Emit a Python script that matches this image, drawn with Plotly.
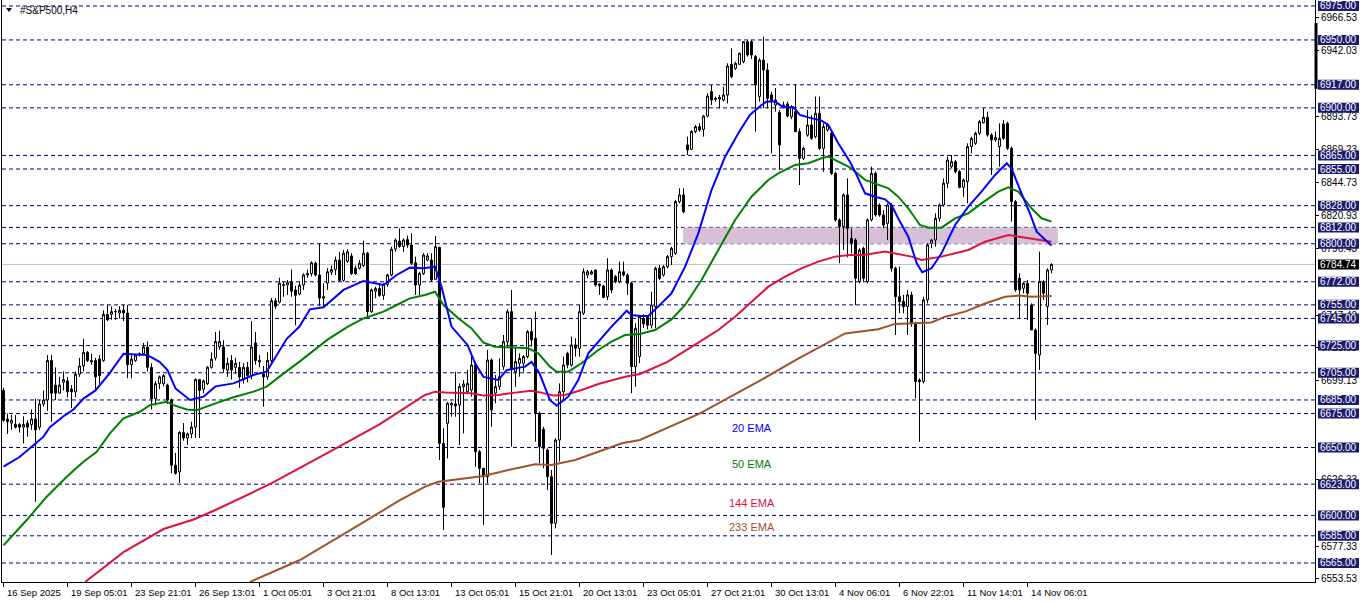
import plotly.graph_objects as go

# ---------------- data ----------------
opens = [
    6692, 6671, 6668, 6667, 6667, 6665, 6668, 6667, 6671, 6665,
    6682, 6685, 6714, 6696, 6690, 6698, 6699, 6693, 6691, 6704,
    6710, 6720, 6713, 6714, 6715, 6714, 6748, 6748, 6750, 6749,
    6751, 6749, 6711, 6714, 6718, 6719, 6724, 6709, 6686, 6697,
    6697, 6696, 6685, 6637, 6632, 6661, 6657, 6660, 6665, 6700,
    6693, 6697, 6709, 6716, 6724, 6724, 6707, 6714, 6709, 6709,
    6700, 6709, 6703, 6727, 6713, 6704, 6702, 6714, 6758, 6757,
    6770, 6769.6, 6772, 6766, 6763, 6769.6, 6777, 6778, 6785.6, 6777,
    6761, 6771, 6779, 6781, 6788, 6773, 6787, 6791, 6782, 6782,
    6784, 6793, 6750, 6765, 6767, 6762, 6770, 6777, 6796, 6802,
    6798, 6803, 6799, 6786, 6769.6, 6778, 6788, 6788, 6773.8, 6797.3,
    6653.1, 6667.8, 6681.3, 6682, 6681.3, 6694.8, 6691.1, 6692.3, 6710.7, 6646.9,
    6634.7, 6628.5, 6714.4, 6690, 6694.8, 6709.5, 6727.9, 6750.0, 6705.8, 6712.0,
    6712.0, 6716.9, 6735.3, 6730.4, 6675.2, 6663.4, 6648.2, 6628.5, 6594.2, 6655.5,
    6691.1, 6719.3, 6710.7, 6725.5, 6723.0, 6748.8, 6777.0, 6777.7, 6780.7, 6770.1,
    6768.9, 6761.0, 6780.7, 6775.8, 6772.1, 6779.4, 6777.0, 6770.9, 6709.5, 6717,
    6745, 6746, 6740, 6753.7, 6781.9, 6777.0, 6783.1, 6790.5, 6793, 6831.0,
    6835.9, 6872.7, 6869.5, 6882.5, 6886.2, 6884.2, 6894.0, 6911.9, 6906.3, 6906.5,
    6905.8, 6909.5, 6932.1, 6929.1, 6932.1, 6934.0, 6948.7, 6948.7, 6937.7, 6908.3,
    6935.2, 6927.9, 6909.5, 6902.1, 6896.5, 6900.9, 6902.9, 6893.5, 6897.2, 6882.5,
    6862.9, 6880.0, 6887.4, 6878.8, 6896.0, 6870.2, 6883.7, 6881.3, 6851.8, 6817.5,
    6812.6, 6835.9, 6804.0, 6802.7, 6772.1, 6796.6, 6772.1, 6817.5, 6851.8, 6828.5,
    6821.2, 6815.0, 6828.5, 6781.9, 6761.0, 6757.4, 6753.7, 6762.3, 6741.4, 6699.7,
    6698.5, 6758.6, 6800.3, 6802.7, 6818.7, 6828.5, 6844.5, 6856.7, 6860.4, 6853.1,
    6841.5, 6845.7, 6871.5, 6874.0, 6881.3, 6889.1, 6893.0, 6880.0, 6876.4, 6871.5,
    6888.1, 6888.6, 6870.2, 6831.0, 6774.5, 6767.2, 6770.8, 6754.9, 6736.5, 6718.1,
    6772.1, 6753.7, 6780.7,
]
highs = [
    6694, 6675, 6674, 6674, 6668, 6673, 6670, 6678, 6686, 6685,
    6692, 6718, 6718, 6709, 6702, 6706, 6702, 6696, 6706, 6716,
    6730, 6721, 6719, 6716, 6718, 6751, 6755, 6754, 6752, 6754,
    6755, 6755, 6718, 6719, 6720, 6727, 6728, 6712, 6699, 6703,
    6704, 6697, 6686, 6646, 6662, 6668, 6661, 6669, 6701, 6700,
    6700, 6710, 6720, 6735, 6736, 6729, 6716, 6718, 6716, 6713,
    6712, 6713, 6743, 6735, 6718, 6710, 6720, 6760, 6760, 6775,
    6772, 6773.3, 6781, 6769, 6772, 6778.2, 6781, 6787, 6787, 6800,
    6771, 6782, 6784, 6790.5, 6794, 6795.4, 6796, 6793, 6784, 6788,
    6802.3, 6794, 6767, 6768.4, 6771, 6771, 6778, 6797.8, 6804, 6811.3,
    6804, 6806, 6807.6, 6790.5, 6779.4, 6793, 6793, 6793, 6805.7, 6797.8,
    6664.1, 6683.7, 6683.7, 6705.8, 6697.2, 6699.7, 6707.1, 6718.1, 6713.2, 6648.2,
    6634.7, 6721.8, 6715.6, 6703.4, 6715.6, 6732.8, 6751.7, 6766.0, 6724.2, 6719.3,
    6718.1, 6736.5, 6745.1, 6750.0, 6676.4, 6665.3, 6649.4, 6633.4, 6656.8, 6697.2,
    6716.9, 6720.5, 6731.6, 6730.4, 6754.9, 6781.9, 6780.7, 6780.7, 6780.7, 6770.9,
    6769.6, 6789.3, 6781.9, 6777.0, 6786.8, 6786.8, 6778.2, 6772.1, 6741.4, 6747,
    6748, 6747, 6764.7, 6783.1, 6784.3, 6784.3, 6791.7, 6797.8, 6832.2, 6840.8,
    6840.8, 6878.8, 6883.7, 6887.4, 6888.6, 6894.8, 6910.7, 6916.8, 6908.3, 6909.5,
    6915.6, 6932.8, 6943.8, 6934.0, 6940.6, 6949.2, 6950.0, 6950.0, 6938.9, 6936.5,
    6952.4, 6932.8, 6912.0, 6914.6, 6898.4, 6904.6, 6904.6, 6902.1, 6916.8, 6884.9,
    6871.5, 6898.4, 6894.8, 6908.3, 6908.3, 6888.6, 6888.6, 6882.5, 6853.0, 6818.7,
    6837.1, 6848.1, 6811.3, 6804.0, 6796.6, 6797.8, 6818.7, 6856.7, 6853.1, 6829.7,
    6824.8, 6829.7, 6829.7, 6783.1, 6783.1, 6762.3, 6765.9, 6764.7, 6742.6, 6700.9,
    6761.0, 6800.3, 6803.5, 6822.4, 6829.7, 6848.1, 6864.1, 6865.3, 6861.6, 6854.3,
    6848.1, 6873.9, 6878.8, 6882.5, 6891.1, 6899.7, 6897.2, 6881.3, 6882.5, 6888.6,
    6891.1, 6889.9, 6871.5, 6832.2, 6778.2, 6772.1, 6773.3, 6756.1, 6737.7, 6794.2,
    6773.3, 6781.9, 6785.6,
]
lows = [
    6669, 6660, 6663, 6664, 6661, 6653, 6658, 6663, 6610, 6663,
    6680, 6677, 6669, 6685, 6690, 6692, 6687, 6679, 6687, 6702,
    6706, 6713, 6711, 6693, 6697, 6713, 6743, 6744, 6744, 6745,
    6743, 6701, 6701, 6713, 6717, 6719, 6706, 6678, 6681, 6693,
    6695, 6682, 6631, 6630, 6624, 6655, 6652, 6657, 6657, 6657,
    6690, 6696, 6708, 6714, 6722, 6705, 6702, 6700, 6704, 6694,
    6697, 6698, 6700, 6711, 6709, 6680, 6700, 6712, 6752, 6756,
    6761, 6762.3, 6761, 6740, 6762, 6766, 6775, 6776, 6776, 6754,
    6754, 6766, 6777, 6777, 6772, 6772, 6786, 6777, 6777, 6781,
    6783, 6746.3, 6749, 6759.8, 6761, 6758.6, 6768.4, 6776, 6794, 6797,
    6794, 6797, 6784.3, 6762.3, 6762.3, 6777, 6787, 6772, 6773.3, 6640.8,
    6589.3, 6642.0, 6672.7, 6672.7, 6651.8, 6660.4, 6689.9, 6687.4, 6635.9, 6623.6,
    6593.0, 6623.6, 6665.3, 6682.5, 6692.3, 6707.1, 6724.2, 6650.6, 6694.8, 6702.1,
    6705.8, 6715.6, 6724.2, 6654.3, 6638.4, 6634.7, 6618.7, 6570.9, 6590.5, 6639.6,
    6685.0, 6708.3, 6709.5, 6716.9, 6716.9, 6747.5, 6774.5, 6777.0, 6768.4, 6762.3,
    6759.8, 6758.6, 6763.5, 6770.9, 6770.9, 6775.8, 6762.3, 6689.9, 6694.8, 6712,
    6738, 6737, 6737.7, 6737.7, 6773.3, 6775.8, 6781.9, 6784.3, 6791.7, 6829.7,
    6822.4, 6865.3, 6869.0, 6881.3, 6882.5, 6878.8, 6893.0, 6902.1, 6904.6, 6899.7,
    6904.6, 6903.3, 6921.8, 6927.9, 6931.6, 6932.8, 6937.7, 6936.0, 6882.5, 6904.6,
    6899.7, 6899.7, 6866.5, 6897.2, 6854.3, 6899.7, 6893.0, 6891.7, 6882.5, 6843.2,
    6861.6, 6878.8, 6876.4, 6877.6, 6869.0, 6853.0, 6882.5, 6850.6, 6816.2, 6785.6,
    6795.4, 6790.0, 6792.9, 6754.9, 6770.8, 6772.1, 6770.8, 6816.3, 6819.9, 6819.9,
    6811.3, 6802.7, 6779.4, 6732.8, 6748.8, 6748.8, 6732.8, 6738.9, 6686.2, 6654.3,
    6697.2, 6756.0, 6796.6, 6797.8, 6816.3, 6827.3, 6840.8, 6855.5, 6851.8, 6840.8,
    6834.6, 6829.7, 6866.6, 6872.7, 6880.0, 6888.6, 6878.8, 6850.6, 6875.1, 6856.7,
    6876.4, 6869.0, 6816.3, 6764.7, 6745.1, 6763.5, 6743.9, 6736.5, 6670.3, 6707.1,
    6758.6, 6740.2, 6778.2,
]
closes = [
    6670, 6669, 6670, 6665, 6665, 6667, 6665, 6671, 6663, 6682,
    6685, 6714, 6690, 6690, 6696, 6700, 6691, 6691, 6704, 6710,
    6720, 6714, 6714, 6702, 6703, 6748, 6744, 6750, 6750, 6751,
    6749, 6711, 6715, 6718, 6719, 6724, 6709, 6686, 6697, 6702,
    6703, 6685, 6637, 6631, 6661, 6657, 6660, 6665, 6700, 6692,
    6699, 6709, 6715, 6728, 6728, 6708, 6712, 6707, 6712, 6702,
    6709, 6703, 6724, 6714, 6714, 6702, 6714, 6758, 6754, 6771,
    6769.5, 6771.6, 6765, 6762, 6769.5, 6777, 6778, 6786, 6777, 6760,
    6760, 6779.4, 6781, 6788, 6773, 6793, 6794, 6778, 6778, 6785.6,
    6793, 6750, 6766, 6767, 6762, 6770, 6777, 6796, 6802.7, 6798,
    6802.7, 6799, 6785.6, 6769.6, 6778.2, 6791.7, 6791, 6773.3, 6797.8, 6653.1,
    6606.0, 6682.5, 6682.5, 6680.6, 6694.8, 6696.7, 6697.2, 6710.7, 6646.9, 6634.7,
    6628.5, 6714.4, 6677.6, 6694.8, 6702.1, 6727.9, 6750.0, 6707.1, 6713.2, 6715.6,
    6716.9, 6735.3, 6729.1, 6675.2, 6650.6, 6649.4, 6628.5, 6594.2, 6655.5, 6691.1,
    6710.7, 6710.7, 6725.5, 6723.0, 6750.0, 6779.4, 6779.4, 6779.4, 6769.6, 6769.1,
    6760.5, 6780.7, 6766.0, 6772.1, 6779.4, 6777.0, 6770.9, 6709.5, 6737.7, 6746.3,
    6741, 6740, 6754.9, 6781.9, 6774.5, 6783.1, 6790.5, 6796.6, 6831.0, 6835.9,
    6823.6, 6869.0, 6882.5, 6886.2, 6883.7, 6894.0, 6908.7, 6905.8, 6907.0, 6907.8,
    6909.5, 6930.8, 6923.0, 6932.8, 6940.2, 6948.7, 6938.9, 6938.9, 6916.8, 6935.2,
    6927.9, 6907.0, 6904.6, 6905.8, 6872.7, 6902.1, 6894.0, 6900.9, 6882.5, 6862.9,
    6870.2, 6887.4, 6877.6, 6896.0, 6870.2, 6886.2, 6887.4, 6851.8, 6817.5, 6812.6,
    6835.9, 6811.3, 6800.3, 6774.5, 6795.4, 6774.5, 6817.5, 6851.8, 6821.2, 6821.2,
    6813.8, 6828.5, 6781.9, 6761.0, 6757.4, 6753.7, 6762.3, 6741.4, 6698.5, 6698.5,
    6758.6, 6799.1, 6802.7, 6818.7, 6828.5, 6844.5, 6861.6, 6860.4, 6853.1, 6841.5,
    6846.9, 6871.5, 6877.6, 6881.3, 6889.9, 6893.0, 6880.0, 6876.4, 6878.3, 6877.6,
    6877.6, 6870.2, 6831.0, 6766.0, 6766.0, 6770.8, 6763.5, 6736.5, 6719.3, 6772.1,
    6763.5, 6780.7, 6784.74,
]
bars = list(range(len(closes)))

# moving averages (bar position, value)
ema20_bar = [0, 4, 8, 10, 11.6, 15, 17.5, 20, 23, 26.6, 30, 36, 39, 41, 43, 46.6, 50, 53, 57.5, 62.5,
             65.8, 68.3, 70.8, 74, 76.6, 80, 85, 90, 95, 98.3, 101.6, 105, 107.9, 109.5, 112, 116,
             117.9, 120, 123.7, 125.8, 130.4, 132, 134, 136.6, 138.3, 141.2, 143.7, 146.2, 148.7,
             152, 155.8, 157, 159.1, 161.2, 164.5, 167, 170.4, 173.7, 177, 180.4, 183.7, 186.6,
             189.5, 190.8, 192.9, 195, 197.5, 199.1, 201.2, 204.5, 206.2, 208.7, 211.6, 212.9,
             215.4, 217.9, 220.4, 222, 224.1, 226.2, 228.3, 229.7, 232, 234.5, 237.9, 241.2, 244.5,
             247.9, 250.8, 252, 254.5, 256.6, 258.3, 260.4, 262]
ema20_val = [6636, 6643, 6653, 6658, 6665, 6673, 6678, 6686, 6692, 6705, 6719, 6718, 6713, 6707, 6693.5,
             6685, 6687.4, 6695, 6697.2, 6703.4, 6705.8, 6718.1, 6730, 6739, 6751.7, 6753.2, 6766,
             6772.6, 6769.6, 6777, 6782.4, 6781.9, 6783.1, 6768.4, 6739, 6725.5, 6712, 6702, 6699.7,
             6707, 6709.5, 6713, 6704.6, 6685, 6680.8, 6687.4, 6699.7, 6719.3, 6728, 6739, 6750.7,
             6747.5, 6746.8, 6746.8, 6756.1, 6763.5, 6783.1, 6807.6, 6839.5, 6864.1, 6881.3, 6894.8,
             6902.1, 6904.6, 6904.6, 6900.4, 6900.4, 6894.8, 6893, 6890.6, 6887.4, 6873.9, 6860.4,
             6853.1, 6837.1, 6834.6, 6832.7, 6828.5, 6816.3, 6805.2, 6785.6, 6779, 6781.9, 6792.9,
             6813.8, 6827.3, 6838.3, 6850.6, 6859.2, 6855.5, 6837.1, 6822.4, 6808.9, 6802.7, 6798.6]

ema50_bar = [0, 5.8, 10.8, 15.8, 20, 23.3, 26.6, 30, 34.1, 36.6, 40.8, 42.5, 45.8, 48.3, 53, 57.5, 62.5,
             65.8, 69, 74, 81.1, 86.1, 90, 95, 98.3, 101.6, 105.4, 107.9, 110, 113.7, 117, 120, 122.9,
             127, 131.2, 133.7, 136.6, 138.3, 141.2, 144.5, 148.7, 152, 155.4, 159.1, 162.9, 167,
             170.4, 174.5, 178.7, 182.9, 187, 191.2, 193.7, 197.9, 201.2, 204.5, 206.2, 208.7, 211.6,
             215.4, 218.7, 221.2, 223.7, 226.2, 229.1, 231.2, 234.5, 237.9, 241.2, 244.5, 248.7,
             251.2, 253.7, 257, 259.5, 262]
ema50_val = [6578, 6596.6, 6613.8, 6628.5, 6639.5, 6646.9, 6660.4, 6671.4, 6676.3, 6681.2, 6683.7,
             6681.2, 6678, 6677.5, 6682.5, 6687, 6691.1, 6694.8, 6702.2, 6713.2, 6729.6, 6739, 6745,
             6750, 6754.9, 6759.8, 6762.3, 6764.7, 6754.9, 6745.1, 6737.7, 6727.2, 6724.2, 6723.7,
             6723, 6719.3, 6709.5, 6705.8, 6705.8, 6712, 6721.8, 6727.9, 6732.8, 6733.5, 6736.5,
             6744.3, 6754.9, 6773.3, 6795.4, 6817.5, 6834.6, 6846.9, 6851.8, 6858, 6859.2, 6862.9,
             6864.1, 6860.4, 6856.2, 6847, 6843.2, 6840.8, 6834.6, 6826.1, 6813.8, 6811.8, 6811.8,
             6818.7, 6822.4, 6829.7, 6838.3, 6841.5, 6838.3, 6826.1, 6818.7, 6816.3]

ema144_bar = [20.4, 30, 40, 47.5, 53, 66.6, 81.6, 94, 105.4, 107.9, 110.4, 113.7, 117, 120, 123.7,
              127.9, 132, 134.5, 137.5, 140.4, 144.5, 148.7, 152.9, 155.4, 159.1, 166, 172, 178.7,
              182.9, 187, 191.2, 195.4, 199.5, 203.7, 207.9, 211.6, 215, 220.4, 227, 229.5, 234.5,
              241.2, 245.4, 251.2, 257, 262]
ema144_val = [6551, 6573, 6590, 6597, 6604, 6623, 6647, 6667, 6688.7, 6691.1, 6690.4, 6689.9, 6689.9,
              6688.2, 6688.7, 6690.4, 6691.8, 6690.4, 6688.2, 6688.7, 6692.3, 6696.7, 6700.2, 6702.1,
              6704.1, 6713, 6724, 6736.5, 6746.3, 6757.3, 6768.4, 6775.8, 6781.9, 6786.8, 6790.5,
              6791.7, 6791.7, 6794.2, 6790.5, 6788, 6790.5, 6795.4, 6801.5, 6806.4, 6804, 6801.5]

ema233_bar = [61.6, 74, 86.6, 99, 105.4, 108.7, 113.7, 120, 126.2, 132.9, 137, 142.9, 148.7, 154.6,
              159.1, 174, 189, 199, 210.4, 218.7, 222.9, 227.9, 232, 235.4, 240.4, 245.4, 250.4,
              253.7, 257, 262]
ema233_val = [6551, 6567, 6589, 6611, 6621.2, 6624.8, 6626.6, 6629, 6633.4, 6637.6, 6637.1, 6640.8,
              6646.9, 6653.1, 6655.5, 6675, 6699, 6716, 6734, 6737, 6741, 6741.4, 6742, 6746.3, 6750,
              6756, 6761, 6761.8, 6761, 6761.5]

level_prices = [6975, 6950, 6917, 6900, 6865, 6855, 6828, 6812, 6800, 6772, 6755, 6745, 6725,
                6705, 6685, 6675, 6650, 6623, 6600, 6585, 6565]
scale_prices = [6966.53, 6942.03, 6893.73, 6869.23, 6844.73, 6820.93, 6796.43,
                6747.43, 6723.63, 6699.13, 6626.33, 6577.33, 6553.53]
last_price = 6784.74
zone_low, zone_high = 6800, 6812
zone_start_bar, zone_end_bar = 169.9, 263.6

time_labels = ["16 Sep 2025", "19 Sep 05:01", "23 Sep 21:01", "26 Sep 13:01", "1 Oct 05:01",
               "3 Oct 21:01", "8 Oct 13:01", "13 Oct 05:01", "15 Oct 21:01", "20 Oct 13:01",
               "23 Oct 05:01", "27 Oct 21:01", "30 Oct 13:01", "4 Nov 06:01", "6 Nov 22:01",
               "11 Nov 14:01", "14 Nov 06:01"]
time_label_bars = [16 * k for k in range(len(time_labels))]

ema_names = ["20 EMA", "50 EMA", "144 EMA", "233 EMA"]
ema_colors = ["#0000FF", "#008000", "#DC143C", "#A0522D"]
ema_label_prices = [6664.4, 6637.9, 6609.2, 6591.5]
ema_label_bar = 187

# ---------------- layout geometry ----------------
W, H = 1362, 603
ML, MR, MT, MB = 2, 47, 0, 21
PW = W - ML - MR
PH = H - MT - MB
X_RANGE = [-0.375, -0.375 + PW / 4.0]
Y_RANGE = [6551.0, 6979.4]
FONT = "Liberation Sans"
NAVY = "#000080"


def px_x(px):
    return (px - ML) / PW


def px_y(py):
    return 1 - (py - MT) / PH


fig = go.Figure()

fig.add_trace(go.Candlestick(
    x=bars, open=opens, high=highs, low=lows, close=closes,
    increasing=dict(line=dict(color="black", width=1), fillcolor="white"),
    decreasing=dict(line=dict(color="black", width=1), fillcolor="black"),
    whiskerwidth=0, showlegend=False, hoverinfo="skip",
))

for bx, vy, col in [(ema233_bar, ema233_val, ema_colors[3]), (ema144_bar, ema144_val, ema_colors[2]),
                    (ema50_bar, ema50_val, ema_colors[1]), (ema20_bar, ema20_val, ema_colors[0])]:
    fig.add_trace(go.Scatter(x=bx, y=vy, mode="lines", line=dict(color=col, width=2),
                             showlegend=False, hoverinfo="skip"))

shapes = []
# highlighted zone
shapes.append(dict(type="rect", xref="x", yref="y", x0=zone_start_bar, x1=zone_end_bar,
                   y0=zone_low, y1=zone_high, fillcolor="#D8BFD8", line=dict(width=0), layer="below"))
# current price line
shapes.append(dict(type="line", xref="paper", yref="y", x0=0, x1=1, y0=last_price, y1=last_price,
                   line=dict(color="#C0C0C0", width=1), layer="below"))
# horizontal dashed levels
for p in level_prices:
    shapes.append(dict(type="line", xref="paper", yref="y", x0=0, x1=1, y0=p, y1=p,
                       line=dict(color=NAVY, width=1, dash="4px,3px"), layer="below"))

annotations = []
half = 5 / (PH / (Y_RANGE[1] - Y_RANGE[0]))
for p in level_prices:
    shapes.append(dict(type="rect", xref="paper", yref="y", x0=px_x(1318), x1=px_x(1359),
                       y0=p - half, y1=p + half, fillcolor="#1C1C6E", line=dict(width=0),
                       layer="above"))
    annotations.append(dict(xref="paper", yref="y", x=px_x(1338.5), y=p, text=f"{p:.2f}",
                            showarrow=False, xanchor="center", yanchor="middle",
                            font=dict(family=FONT, size=10, color="white")))
shapes.append(dict(type="rect", xref="paper", yref="y", x0=px_x(1318), x1=px_x(1359),
                   y0=last_price - half, y1=last_price + half, fillcolor="black",
                   line=dict(width=0), layer="above"))
annotations.append(dict(xref="paper", yref="y", x=px_x(1338.5), y=last_price, text=f"{last_price:.2f}",
                        showarrow=False, xanchor="center", yanchor="middle",
                        font=dict(family=FONT, size=10, color="white")))

# black marker on price scale
shapes.append(dict(type="rect", xref="paper", yref="paper", x0=px_x(1314.5), x1=px_x(1317.5),
                   y0=px_y(89), y1=px_y(23), fillcolor="black", line=dict(width=0), layer="above"))

# title triangle + text
shapes.append(dict(type="path", xref="paper", yref="paper",
                   path=f"M {px_x(6)} {px_y(8)} L {px_x(12)} {px_y(8)} L {px_x(9)} {px_y(12)} Z",
                   fillcolor="black", line=dict(width=0), layer="above"))
annotations.append(dict(xref="paper", yref="paper", x=px_x(18), y=px_y(10.5), text="#S&P500,H4",
                        showarrow=False, xanchor="left", yanchor="middle",
                        font=dict(family=FONT, size=10, color="black")))

# time labels
for b, t in zip(time_label_bars, time_labels):
    annotations.append(dict(xref="x", yref="paper", x=b + 0.25, y=px_y(592), text=t,
                            showarrow=False, xanchor="left", yanchor="middle",
                            font=dict(family=FONT, size=9.5, color="black")))

# EMA labels
for name, col, p in zip(ema_names, ema_colors, ema_label_prices):
    annotations.append(dict(xref="x", yref="y", x=ema_label_bar, y=p, text=name, showarrow=False,
                            xanchor="center", yanchor="middle",
                            font=dict(family=FONT, size=11, color=col)))

fig.update_layout(
    width=W, height=H,
    margin=dict(l=ML, r=MR, t=MT, b=MB, pad=0),
    paper_bgcolor="white", plot_bgcolor="white",
    showlegend=False,
    shapes=shapes, annotations=annotations,
    xaxis=dict(range=X_RANGE, showgrid=False, zeroline=False, rangeslider=dict(visible=False),
               showline=True, mirror=True, linecolor="black", linewidth=1,
               tickmode="array", tickvals=time_label_bars, ticks="outside", ticklen=4,
               tickcolor="black", showticklabels=False, fixedrange=True),
    yaxis=dict(range=Y_RANGE, side="right", showgrid=False, zeroline=False,
               showline=True, mirror=True, linecolor="black", linewidth=1,
               tickmode="array", tickvals=scale_prices, ticktext=[f"{v:.2f}" for v in scale_prices],
               ticks="outside", ticklen=3, tickcolor="black",
               tickfont=dict(family=FONT, size=10, color="black"), fixedrange=True),
)

fig.write_html("out.html", config={"displayModeBar": False},
               post_script="document.body.style.margin='0px';document.body.style.overflow='hidden';")
